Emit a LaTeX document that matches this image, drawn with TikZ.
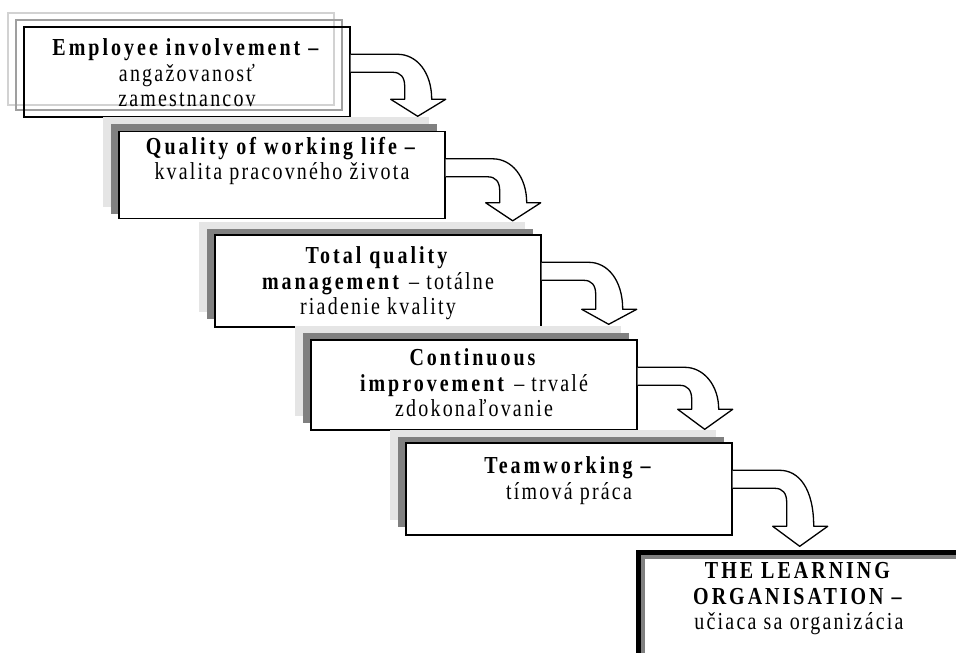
\documentclass[tikz,border=0pt]{standalone}
\usepackage{fontspec}
\setmainfont{Liberation Serif}[LetterSpace=11, BoldFeatures={LetterSpace=15}]
\usetikzlibrary{positioning}

\definecolor{shadelight}{gray}{0.90}
\definecolor{shadedark}{gray}{0.50}

\tikzset{
  stepbox/.style={draw, line width=1.4pt, fill=white, minimum width=326pt,
    minimum height=90pt, inner sep=0pt},
  steptext/.style={align=center, inner sep=0pt, anchor=north, yscale=1.22, transform shape,
    font=\fontsize{20}{21}\selectfont},
  shadowlight/.style={fill=shadelight, minimum width=326pt, minimum height=90pt, inner sep=0pt},
  shadowdark/.style={fill=shadedark, minimum width=326pt, minimum height=90pt, inner sep=0pt},
  arrowline/.style={draw=black, line width=1.3pt, fill=white, line join=round},
  pics/bentarrow/.style 2 args={code={
    \draw[arrowline] (0,28) -- (47,28) .. controls (66,28) and (81,46) .. (81,#1)
      -- (95,#1) -- (67,#2) -- (40,#1) -- (54,#1) -- (54,60)
      .. controls (54,51) and (50,46) .. (42,46) -- (0,46);
  }}
}

\begin{document}
\begin{tikzpicture}[x=1pt, y=-1pt]
    \useasboundingbox (0,0) rectangle (956,653);
    \clip (0,0) rectangle (956,653);

    % first step: outlined shadow only
    \node[draw=gray!35, line width=1.5pt, minimum width=326pt, minimum height=92pt, inner sep=0pt] (s1a) at (171,59) {};
    \node[draw=gray!75, line width=1.5pt, minimum width=326pt, minimum height=90pt, inner sep=0pt] (s1b) at (179,65) {};
    \node[draw, line width=1.4pt, minimum width=326pt, minimum height=90pt, inner sep=0pt] (b1) at (187,72) {};

    % steps with filled shadows
    \node[shadowlight] (s2a) at (266,162) {};
    \node[shadowdark] (s2b) at (274,169) {};
    \node[stepbox, minimum height=87pt] (b2) at (282,175) {};

    \node[shadowlight] (s3a) at (362,267) {};
    \node[shadowdark] (s3b) at (370,274) {};
    \node[stepbox, minimum height=92pt] (b3) at (378,281) {};

    \node[shadowlight] (s4a) at (458,371) {};
    \node[shadowdark] (s4b) at (466,378) {};
    \node[stepbox] (b4) at (474,385) {};

    \node[shadowlight] (s5a) at (553,475) {};
    \node[shadowdark] (s5b) at (561,482) {};
    \node[stepbox, minimum height=92pt] (b5) at (569,489) {};

    % last step
    \node[draw, line width=6pt, fill=white, minimum width=332pt, minimum height=108pt,
      inner sep=0pt, anchor=north west] (b6) at (636,550) {};
    \draw[shadedark, line width=4pt] (b6.south west) ++(7,0) |- ([yshift=-7pt]b6.north east);

    % bent arrows
    \pic at (b1.north east) {bentarrow={73}{90}};
    \pic at (b2.north east) {bentarrow={72}{90}};
    \pic at (b3.north east) {bentarrow={75}{90}};
    \pic at (b4.north east) {bentarrow={70}{90}};
    \pic at (b5.north east) {bentarrow={84}{104}};

    \node[steptext, below=12pt of b1.north] (t1) {\textbf{Employee involvement –}\\angažovanosť\\zamestnancov};
    \node[steptext, below=6pt of b2.north] (t2) {\textbf{Quality of working life –}\\kvalita pracovného života};
    \node[steptext, below=12pt of b3.north] (t3) {\textbf{Total quality}\\\textbf{management} – totálne\\riadenie kvality};
    \node[steptext, below=9pt of b4.north] (t4) {\textbf{Continuous}\\\textbf{improvement} – trvalé\\zdokonaľovanie};
    \node[steptext, below=14pt of b5.north] (t5) {\textbf{Teamworking –}\\tímová práca};
    \node[steptext] (t6) at (799,562) {\textbf{THE LEARNING}\\\textbf{ORGANISATION –}\\učiaca sa organizácia};
\end{tikzpicture}
\end{document}
